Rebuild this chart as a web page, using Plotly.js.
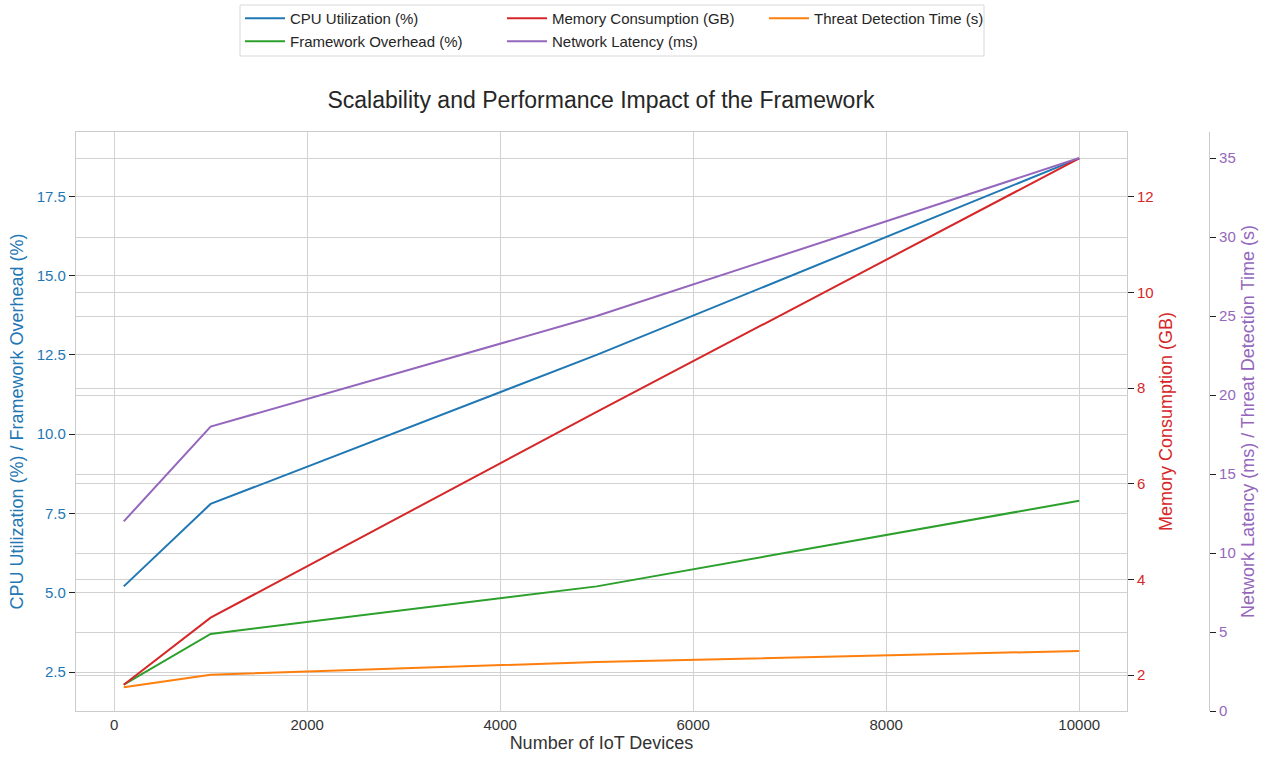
<!DOCTYPE html>
<html>
<head>
<meta charset="utf-8">
<script src="https://cdn.plot.ly/plotly-3.0.1.min.js"></script>
<style>html,body{margin:0;padding:0;background:#fff;}#chart{width:1266px;height:760px;}</style>
</head>
<body>
<div id="chart"></div>
<script>
const devices = [100, 1000, 5000, 10000];
const cpuUtilization = [5.2, 7.8, 12.5, 18.7];
const frameworkOverhead = [2.1, 3.7, 5.2, 7.9];
const memoryConsumption = [1.8, 3.2, 7.5, 12.8];
const networkLatency = [12, 18, 25, 35];
const threatDetectionTime = [1.5, 2.3, 3.1, 3.8];

const FONT = 'Liberation Sans, Arial, sans-serif';
const L = 76, R = 20, T = 132, B = 49, plotW = 1266 - L - R, plotH = 760 - T - B;
const xEnd = (1127 - L) / plotW;
const px2x = p => (p - L) / plotW;
const py2y = p => (760 - B - p) / plotH;

const traces = [
  {x: devices, y: cpuUtilization, name: 'CPU Utilization (%)', yaxis: 'y', line: {color: '#1f77b4', width: 2}, legend: 'legend', legendrank: 1},
  {x: devices, y: frameworkOverhead, name: 'Framework Overhead (%)', yaxis: 'y', line: {color: '#2ca02c', width: 2}, legend: 'legend2', legendrank: 1},
  {x: devices, y: memoryConsumption, name: 'Memory Consumption (GB)', yaxis: 'y2', line: {color: '#d62728', width: 2}, legend: 'legend', legendrank: 2},
  {x: devices, y: networkLatency, name: 'Network Latency (ms)', yaxis: 'y3', line: {color: '#9467bd', width: 2}, legend: 'legend2', legendrank: 2},
  {x: devices, y: threatDetectionTime, name: 'Threat Detection Time (s)', yaxis: 'y3', line: {color: '#ff7f0e', width: 2}, legend: 'legend', legendrank: 3}
].map(t => Object.assign({type: 'scatter', mode: 'lines', xaxis: 'x'}, t));

const gridColor = '#d2d2d2';
const spine = '#cccccc';

const legendBase = {orientation: 'h', x: px2x(240), xanchor: 'left', yanchor: 'top', xref: 'paper', yref: 'container',
  borderwidth: 0, bgcolor: 'rgba(0,0,0,0)', font: {family: FONT, size: 15, color: '#262626'},
  itemwidth: 40, entrywidth: 207, entrywidthmode: 'pixels', traceorder: 'normal', tracegroupgap: 0};

const layout = {
  width: 1266, height: 760,
  margin: {l: L, r: R, t: T, b: B, pad: 0, autoexpand: false},
  paper_bgcolor: '#fff', plot_bgcolor: '#fff',
  font: {family: FONT, size: 14, color: '#333'},
  showlegend: true,
  title: {text: 'Scalability and Performance Impact of the Framework', x: px2x(601), xref: 'paper', xanchor: 'center', y: 1 - 100 / 760, yanchor: 'middle', font: {family: FONT, size: 23, color: '#262626'}},
  legend: Object.assign({}, legendBase, {y: 1 - 2 / 760}),
  legend2: Object.assign({}, legendBase, {y: 1 - 25 / 760}),
  shapes: [{type: 'rect', xref: 'paper', yref: 'paper', x0: px2x(240), x1: px2x(984), y0: py2y(56), y1: py2y(5),
    line: {color: '#d8d8d8', width: 1}, fillcolor: 'rgba(0,0,0,0)', layer: 'above'}],
  xaxis: {domain: [0, xEnd], range: [-395, 10495], tickvals: [0, 2000, 4000, 6000, 8000, 10000], ticktext: ['0','2000','4000','6000','8000','10000'],
    showgrid: true, gridcolor: gridColor, gridwidth: 1.2, zeroline: false, showline: true, linecolor: spine, linewidth: 1.2, mirror: true,
    ticks: '', tickfont: {family: FONT, size: 15, color: '#333'},
    title: {text: 'Number of IoT Devices', font: {family: FONT, size: 18, color: '#333'}, standoff: 4}},
  yaxis: {range: [1.27, 19.53], tickvals: [2.5, 5, 7.5, 10, 12.5, 15, 17.5], ticktext: ['2.5','5.0','7.5','10.0','12.5','15.0','17.5'],
    showgrid: true, gridcolor: gridColor, gridwidth: 1.2, zeroline: false, showline: true, linecolor: spine, linewidth: 1.2, mirror: true,
    ticks: 'outside', ticklen: 6, tickwidth: 1.2, tickcolor: '#222', tickfont: {family: FONT, size: 15, color: '#1f77b4'},
    title: {text: 'CPU Utilization (%) / Framework Overhead (%)', font: {family: FONT, size: 18, color: '#1f77b4'}, standoff: 8}},
  yaxis2: {overlaying: 'y', side: 'right', anchor: 'x', range: [1.25, 13.35], tickvals: [2, 4, 6, 8, 10, 12],
    showgrid: true, gridcolor: gridColor, gridwidth: 1.2, zeroline: false, showline: false,
    ticks: 'outside', ticklen: 6, tickwidth: 1.2, tickcolor: '#222', tickfont: {family: FONT, size: 15, color: '#d62728'},
    title: {text: 'Memory Consumption (GB)', font: {family: FONT, size: 18, color: '#d62728'}, standoff: 6}},
  yaxis3: {overlaying: 'y', side: 'right', anchor: 'free', position: px2x(1209), range: [0, 36.65], tickvals: [0, 5, 10, 15, 20, 25, 30, 35],
    showgrid: true, gridcolor: gridColor, gridwidth: 1.2, zeroline: false, showline: true, linecolor: spine, linewidth: 1.2,
    ticks: 'outside', ticklen: 6, tickwidth: 1.2, tickcolor: '#222', tickfont: {family: FONT, size: 15, color: '#9467bd'},
    title: {text: 'Network Latency (ms) / Threat Detection Time (s)', font: {family: FONT, size: 18, color: '#9467bd'}, standoff: 6}}
};

Plotly.newPlot('chart', traces, layout, {displayModeBar: false, responsive: false});
</script>
</body>
</html>
